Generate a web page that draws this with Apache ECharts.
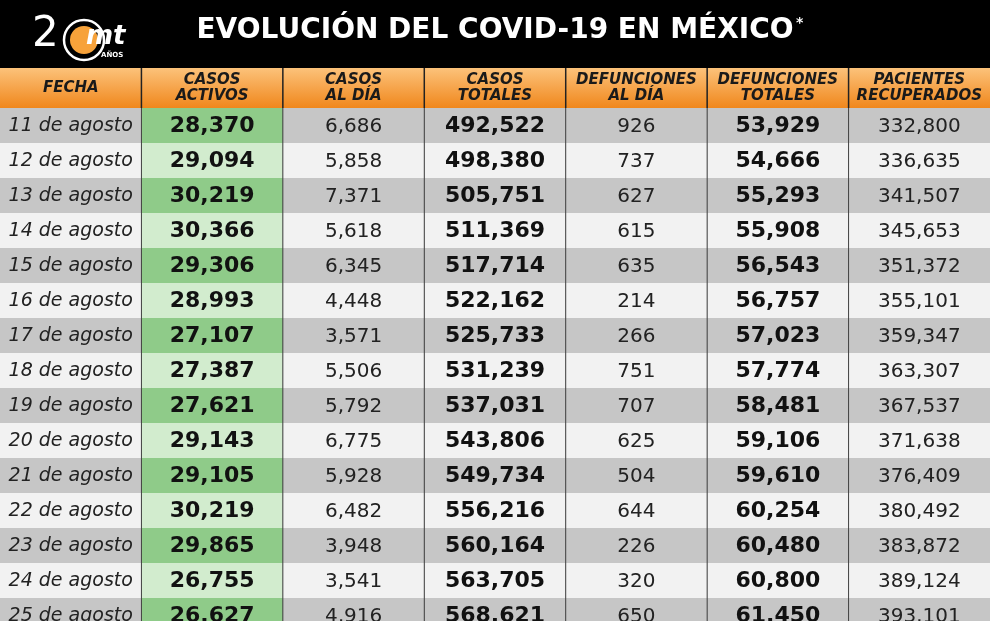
<!DOCTYPE html>
<html>
<head>
<meta charset="utf-8">
<script src="https://cdn.jsdelivr.net/npm/echarts@6/dist/echarts.min.js"></script>
<style>
  html, body { margin: 0; padding: 0; background: #000; }
  #main { width: 990px; height: 621px; }
</style>
</head>
<body>
<div id="main"></div>
<script>
// datos de la tabla
const encabezados = ['FECHA', 'CASOS\nACTIVOS', 'CASOS\nAL DÍA', 'CASOS\nTOTALES', 'DEFUNCIONES\nAL DÍA', 'DEFUNCIONES\nTOTALES', 'PACIENTES\nRECUPERADOS']
const fechas = ['11 de agosto', '12 de agosto', '13 de agosto', '14 de agosto', '15 de agosto', '16 de agosto', '17 de agosto', '18 de agosto', '19 de agosto', '20 de agosto', '21 de agosto', '22 de agosto', '23 de agosto', '24 de agosto', '25 de agosto']
const casosActivos = [28370, 29094, 30219, 30366, 29306, 28993, 27107, 27387, 27621, 29143, 29105, 30219, 29865, 26755, 26627]
const casosAlDia = [6686, 5858, 7371, 5618, 6345, 4448, 3571, 5506, 5792, 6775, 5928, 6482, 3948, 3541, 4916]
const casosTotales = [492522, 498380, 505751, 511369, 517714, 522162, 525733, 531239, 537031, 543806, 549734, 556216, 560164, 563705, 568621]
const defuncionesAlDia = [926, 737, 627, 615, 635, 214, 266, 751, 707, 625, 504, 644, 226, 320, 650]
const defuncionesTotales = [53929, 54666, 55293, 55908, 56543, 56757, 57023, 57774, 58481, 59106, 59610, 60254, 60480, 60800, 61450]
const recuperados = [332800, 336635, 341507, 345653, 351372, 355101, 359347, 363307, 367537, 371638, 376409, 380492, 383872, 389124, 393101]

const columnas = [fechas, casosActivos, casosAlDia, casosTotales, defuncionesAlDia, defuncionesTotales, recuperados]
const negritas = [false, true, false, true, false, true, false]

const fmt = v => typeof v === 'number' ? v.toLocaleString('en-US') : v

// celdas: [columna, fila, texto]
const celdas = []
columnas.forEach((col, c) => {
  col.forEach((v, r) => celdas.push([c, r, fmt(v)]))
})

// la tabla sigue por debajo del borde: filas de 35px en 513px visibles
const altoFila = 35
const filasVisibles = (621 - 108) / altoFila

const myChart = echarts.init(document.querySelector('#main'))

function renderCelda(params, api) {
  const c = api.value(0)
  const r = api.value(1)
  const centro = api.coord([c, r])
  const size = api.size([1, 1])
  const x = centro[0] - size[0] / 2
  const y = centro[1] - size[1] / 2
  let fill = r % 2 === 0 ? '#c6c6c6' : '#f2f2f2'
  if (c === 1) fill = r % 2 === 0 ? '#8fcb89' : '#d2ecce'
  let font = '20px "DejaVu Sans"'
  if (negritas[c]) font = 'bold 22px "DejaVu Sans"'
  if (c === 0) font = 'italic 19px "DejaVu Sans"'
  const children = [
    { type: 'rect', shape: { x: x, y: y, width: size[0], height: size[1] }, style: { fill: fill } },
    {
      type: 'text',
      style: {
        text: api.value(2), x: centro[0], y: centro[1] + 1,
        align: 'center', verticalAlign: 'middle',
        font: font,
        fill: negritas[c] ? '#111' : '#222'
      }
    }
  ]
  if (c > 0) {
    children.push({ type: 'line', shape: { x1: x, y1: y, x2: x, y2: y + size[1] }, style: { stroke: '#444', lineWidth: 1 } })
  }
  if (r === 0) {
    // encabezado de la columna
    children.push({
      type: 'rect', shape: { x: x, y: y - 40, width: size[0], height: 40 },
      style: {
        fill: new echarts.graphic.LinearGradient(0, 0, 0, 1, [
          { offset: 0, color: '#fcc27a' }, { offset: 1, color: '#f0871c' }
        ])
      }
    })
    if (c > 0) {
      children.push({ type: 'line', shape: { x1: x, y1: y - 40, x2: x, y2: y }, style: { stroke: '#222', lineWidth: 1.5 } })
    }
    children.push({
      type: 'text',
      style: {
        text: encabezados[c], x: centro[0], y: y - 20,
        align: 'center', verticalAlign: 'middle', lineHeight: 16,
        font: 'italic bold 15px "DejaVu Sans"', fill: '#1a1a1a'
      }
    })
  }
  return { type: 'group', children: children }
}

option = {
  backgroundColor: '#000',
  animation: false,
  grid: { left: 0, right: 0, top: 108, bottom: 0 },
  xAxis: { type: 'category', data: encabezados, show: false },
  yAxis: { type: 'value', inverse: true, min: -0.5, max: -0.5 + filasVisibles, show: false },
  series: [{
    type: 'custom',
    clip: false,
    renderItem: renderCelda,
    data: celdas
  }],
  graphic: [
    {
      type: 'text', left: 'center', top: 17,
      style: { text: 'EVOLUCIÓN DEL COVID-19 EN MÉXICO', font: 'bold 28px "DejaVu Sans"', fill: '#fff' }
    },
    { type: 'text', left: 796, top: 16, style: { text: '*', font: 'bold 14px "DejaVu Sans"', fill: '#fff' } },
    // logo
    { type: 'text', left: 32, top: 14, style: { text: '2', font: '42px "DejaVu Sans"', fill: '#fff' } },
    { type: 'circle', shape: { cx: 84, cy: 40, r: 20 }, style: { fill: 'none', stroke: '#fff', lineWidth: 2.5 } },
    { type: 'circle', shape: { cx: 84, cy: 40, r: 14 }, style: { fill: '#f7a23a' } },
    { type: 'text', left: 86, top: 24, style: { text: 'mt', font: 'italic bold 26px "DejaVu Sans"', fill: '#fff' } },
    { type: 'text', left: 101, top: 52, style: { text: 'AÑOS', font: 'bold 7px "DejaVu Sans"', fill: '#fff' } }
  ]
}

myChart.setOption(option)
</script>
</body>
</html>
